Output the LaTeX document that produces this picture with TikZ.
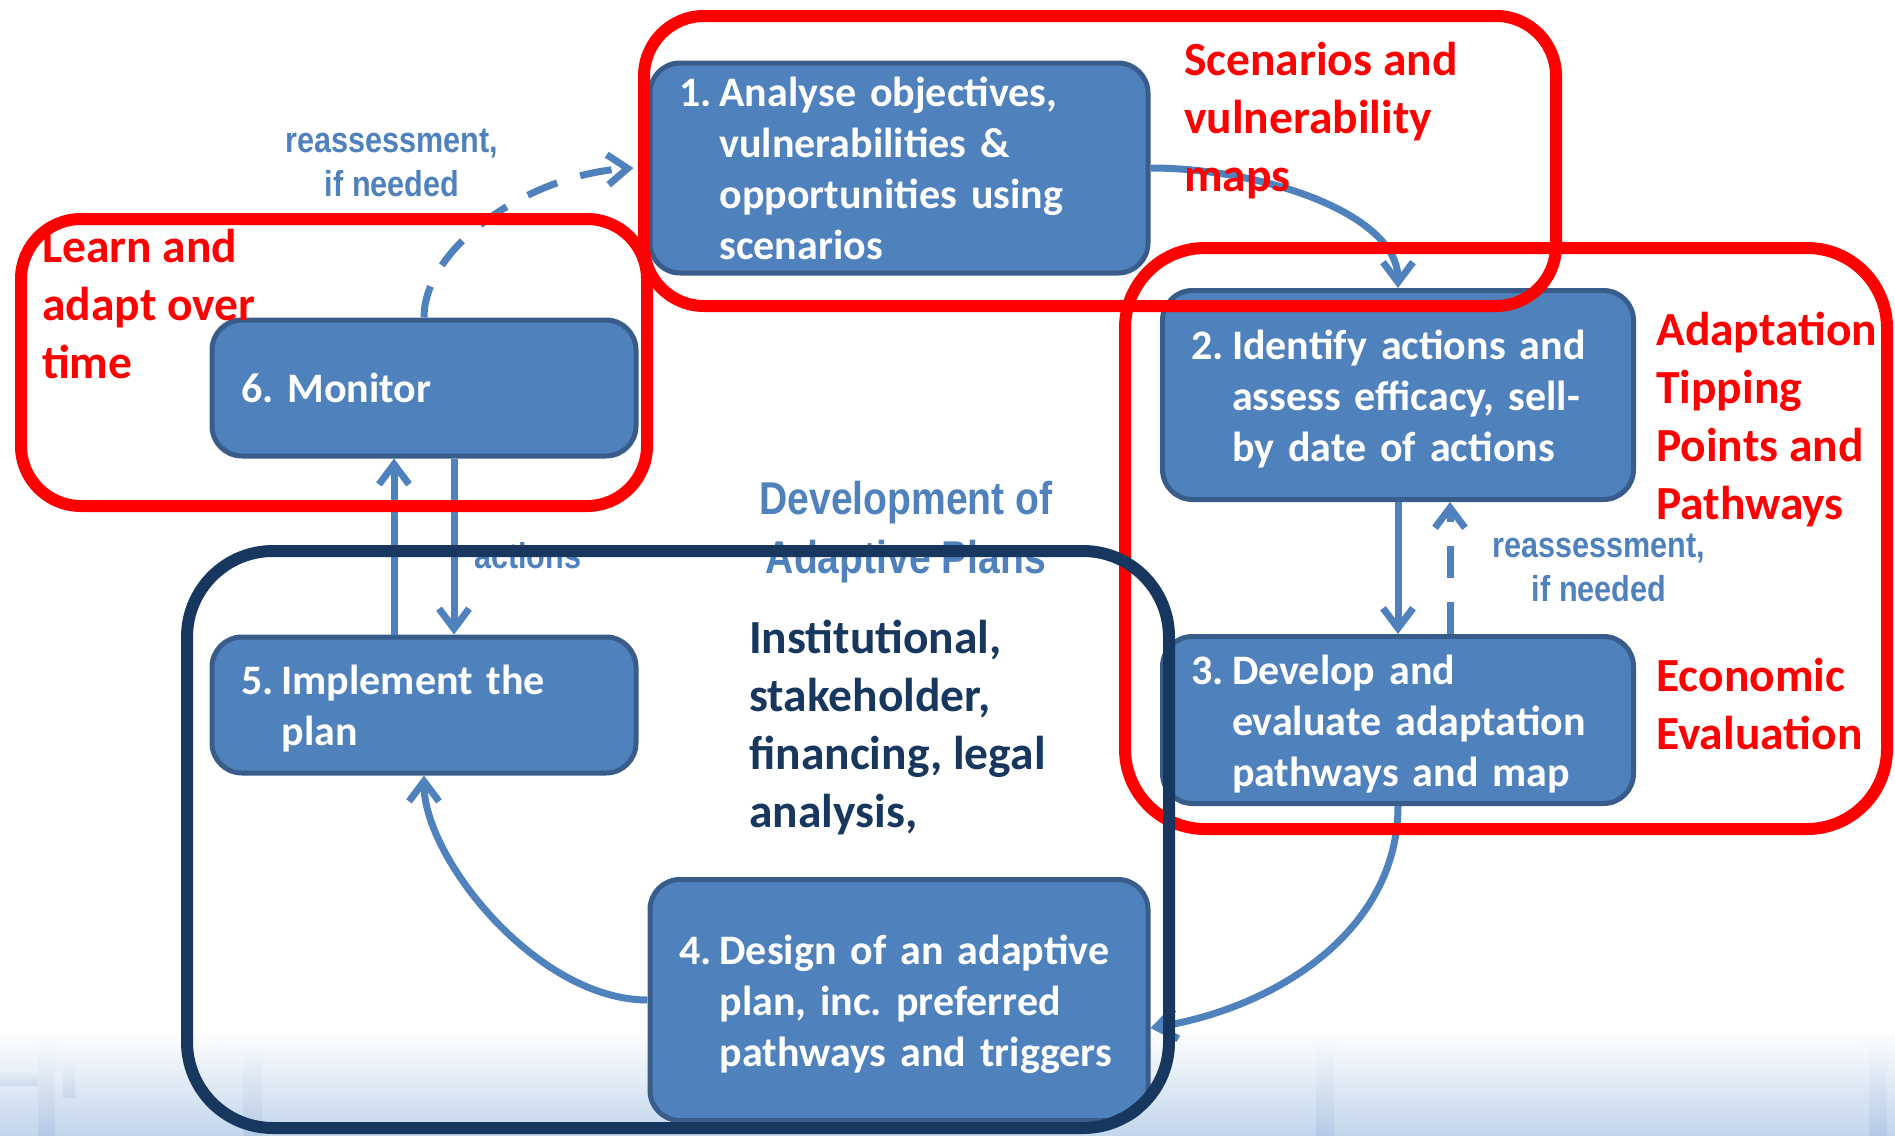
\documentclass[tikz,border=0pt]{standalone}
\usepackage{fontspec}
\setmainfont{Carlito}
\newfontfamily\notefont[FakeStretch=0.85]{Liberation Sans}
\usetikzlibrary{arrows.meta}
\frenchspacing

\definecolor{stepblue}{RGB}{79,129,189}
\definecolor{stepedge}{RGB}{56,93,138}
\definecolor{framered}{RGB}{255,0,0}
\definecolor{framenavy}{RGB}{23,55,94}
\definecolor{groundblue}{RGB}{195,214,236}

\begin{document}
\begin{tikzpicture}[x=1pt, y=-1pt, >={Straight Barb[length=20pt,width=30pt]}]
        \tikzstyle{stepbox}=[rectangle, rounded corners=30pt, fill=stepblue, draw=stepedge, line width=5pt, text=white,
                             inner xsep=29pt, inner ysep=0pt, align=left, font=\fontsize{42}{51}\selectfont\bfseries]
        \tikzstyle{flow}=[->, draw=stepblue, line width=7pt]
        \tikzstyle{recheck}=[flow, dash pattern=on 32pt off 24pt]
        \tikzstyle{frame}=[draw=framered, line width=12pt, rounded corners=60pt]
        \tikzstyle{sidelabel}=[anchor=west, align=left, inner sep=0pt, text=framered, font=\fontsize{47.5}{58}\selectfont\bfseries]
        \tikzstyle{note}=[align=center, inner sep=0pt, text=stepblue, font=\notefont\bfseries\fontsize{36}{44}\selectfont]
        \tikzstyle{streak}=[top color=white, bottom color=stepblue, opacity=0.13]

        \useasboundingbox (0,0) rectangle (1895,1135);
        \shade[top color=white, bottom color=groundblue] (0,1030) rectangle (1895,1135);
        \shade[streak] (38,1035) rectangle (55,1135);
        \shade[streak] (63,1057) rectangle (75,1097);
        \shade[streak] (0,1070) rectangle (38,1085);
        \shade[streak] (243,1040) rectangle (262,1135);
        \shade[streak] (1316,1035) rectangle (1334,1135);
        \shade[streak] (1869,1035) rectangle (1887,1135);

        \node[stepbox, text width=440pt, minimum height=210pt] (1) at (899,168)
            {\vspace*{-10pt}\begin{tabular}{@{}l@{\hspace{8pt}}l@{}}1. & Analyse objectives,\\ & vulnerabilities \&\\ & opportunities using\\ & scenarios\end{tabular}};
        \node[stepbox, text width=413pt, minimum height=209pt] (2) at (1398,395)
            {\vspace*{-10pt}\begin{tabular}{@{}l@{\hspace{8pt}}l@{}}2. & Identify actions and\\ & assess efficacy, sell-\\ & by date of actions\end{tabular}};
        \node[stepbox, text width=413pt, minimum height=167pt] (3) at (1398,720)
            {\vspace*{-10pt}\begin{tabular}{@{}l@{\hspace{8pt}}l@{}}3. & Develop and\\ & evaluate adaptation\\ & pathways and map\end{tabular}};
        \node[stepbox, text width=440pt, minimum height=241pt] (4) at (899,1000)
            {\vspace*{-10pt}\begin{tabular}{@{}l@{\hspace{8pt}}l@{}}4. & Design of an adaptive\\ & plan, inc. preferred\\ & pathways and triggers\end{tabular}};
        \node[stepbox, text width=366pt, minimum height=136pt] (5) at (424,705)
            {\vspace*{-10pt}\begin{tabular}{@{}l@{\hspace{8pt}}l@{}}5. & Implement the\\ & plan\end{tabular}};
        \node[stepbox, text width=366pt, minimum height=136pt] (6) at (424,388)
            {6. Monitor};

        \path
            (2) edge[flow] (3)
            ([xshift=52pt]3.north) edge[recheck] ([xshift=52pt]2.south)
            ([xshift=-30pt]5.north) edge[flow] ([xshift=-30pt]6.south)
            ([xshift=30pt]6.south) edge[flow] ([xshift=30pt]5.north)
        ;
        \draw[flow] (1.east) .. controls +(110,0) and +(0,-75) .. (2.north);
        \draw[flow] (3.south) .. controls +(0,125) and +(125,-20) .. ([yshift=-28pt]4.east);
        \draw[flow] (4.west) .. controls +(-110,0) and +(0,83) .. (5.south);
        \draw[recheck] (6.north) .. controls +(0,-70) and +(-106,7) .. ([xshift=-14pt]1.west);

        \node[note] (recheck1) at (392,163) {reassessment,\\if needed};
        \node[note] (recheck2) at (1599,568) {reassessment,\\if needed};
        \node[note, anchor=west] (act) at (474,556) {actions};
        \node[note, font=\notefont\bfseries\fontsize{46}{59}\selectfont] (devel) at (906,532) {Development of\\Adaptive Plans};

        \node[sidelabel] (scen) at (1184,121) {Scenarios and\\vulnerability\\maps};
        \node[sidelabel] (learn) at (42,304) {Learn and\\adapt over\\time};
        \node[sidelabel] (atp) at (1656,420) {Adaptation\\Tipping\\Points and\\Pathways};
        \node[sidelabel] (econ) at (1656,704) {Economic\\Evaluation};
        \node[sidelabel, text=framenavy] (inst) at (749,728) {Institutional,\\stakeholder,\\financing, legal\\analysis,};

        \draw[frame] (644,16) rectangle (1556,306);
        \draw[frame] (21,219) rectangle (647,506);
        \draw[frame, rounded corners=80pt] (1125,248) rectangle (1887,829);
        \draw[frame, draw=framenavy, rounded corners=86pt] (187,551) rectangle (1169,1128);
\end{tikzpicture}
\end{document}
